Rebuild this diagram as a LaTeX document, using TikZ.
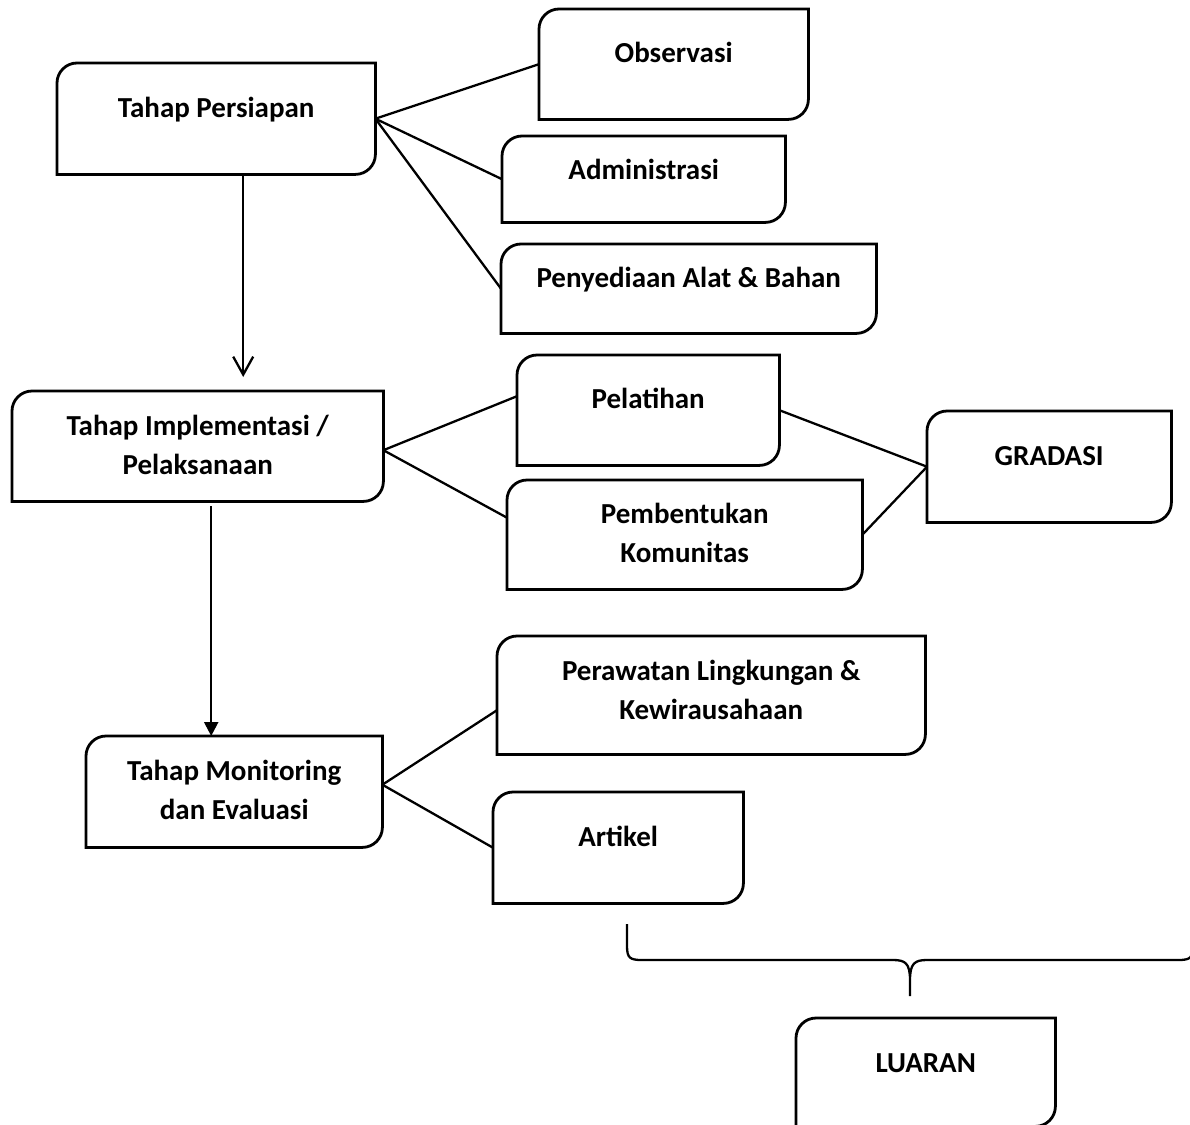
\documentclass[tikz,border=0pt]{standalone}
\usepackage{fontspec}
\setmainfont{Carlito}
\usetikzlibrary{arrows.meta,calc}

\tikzset{
  stagebox/.style={inner xsep=0pt, inner ysep=0pt, anchor=north west, align=center,
    font=\fontsize{29}{39}\selectfont\bfseries},
  outline/.style={line width=2.8pt, line join=miter},
  link/.style={line width=2.3pt},
}

\begin{document}
\begin{tikzpicture}[x=1pt,y=1pt,yscale=-1,xscale=1]
    \useasboundingbox (0,0) rectangle (1190,1124);

    % Stage boxes
    \node[stagebox, minimum width=318, text height=54, text depth=57] (pers) at (57,63) {Tahap Persiapan};
    \node[stagebox, minimum width=269, text height=53, text depth=57] (obs) at (539,9) {Observasi};
    \node[stagebox, minimum width=283, text height=43, text depth=43] (adm) at (502,136) {Administrasi};
    \node[stagebox, minimum width=375, text height=43, text depth=46] (peny) at (501,244) {Penyediaan Alat \& Bahan};
    \node[stagebox, minimum width=371, text height=83, text depth=27] (impl) at (12,391) {Tahap Implementasi /\\Pelaksanaan};
    \node[stagebox, minimum width=262, text height=53, text depth=57] (pel) at (517,355) {Pelatihan};
    \node[stagebox, minimum width=355, text height=82, text depth=27] (pemb) at (507,480) {Pembentukan\\Komunitas};
    \node[stagebox, minimum width=244, text height=54, text depth=57] (grad) at (927,411) {GRADASI};
    \node[stagebox, minimum width=428, text height=83, text depth=35] (pera) at (497,636) {Perawatan Lingkungan \&\\Kewirausahaan};
    \node[stagebox, minimum width=296, text height=83, text depth=28] (mon) at (86,736) {Tahap Monitoring\\dan Evaluasi};
    \node[stagebox, minimum width=250, text height=54, text depth=57] (art) at (493,792) {Artikel};
    \node[stagebox, minimum width=259, text height=54, text depth=54] (lua) at (796,1018) {LUARAN};

    % Outlines: top left and bottom right corners rounded
    \foreach \n in {pers,obs,adm,peny,impl,pel,pemb,grad,pera,mon,art,lua}
      \draw[outline] (\n.south west) -- ($(\n.north west)+(0,20)$)
        .. controls ($(\n.north west)+(0,9)$) and ($(\n.north west)+(9,0)$) .. ($(\n.north west)+(20,0)$)
        -- (\n.north east) -- ($(\n.south east)+(0,-20)$)
        .. controls ($(\n.south east)+(0,-9)$) and ($(\n.south east)+(-9,0)$) .. ($(\n.south east)+(-20,0)$)
        -- cycle;

    % Arrows between stages
    \draw[link, shorten >=14pt, -{Straight Barb[length=18pt,width=20pt]}] ([xshift=27pt]pers.south) -- ([xshift=27pt]pers.south |- impl.north);
    \draw[link, shorten <=5pt, -{Triangle[length=14pt,width=14pt]}] ([xshift=13.5pt]impl.south) -- ([xshift=13.5pt]impl.south |- mon.north);

    % Lines to sub-activities
    \draw[link] (pers.east) -- (obs.west);
    \draw[link] (pers.east) -- (adm.west);
    \draw[link] (pers.east) -- (peny.west);
    \draw[link] ([yshift=4pt]impl.east) -- ([yshift=-14pt]pel.west);
    \draw[link] ([yshift=4pt]impl.east) -- ([yshift=-17pt]pemb.west);
    \draw[link] (pel.east) -- (grad.west);
    \draw[link] (pemb.east) -- (grad.west);
    \draw[link] ([yshift=-7pt]mon.east) -- ([yshift=15pt]pera.west);
    \draw[link] ([yshift=-7pt]mon.east) -- (art.west);

    %Brace over the outputs
    \draw[link] (627,924) -- (627,946) .. controls (627,958) and (630,960) .. (642,960) -- (893,960)
      .. controls (905,960) and (910,963) .. (910,980) -- (910,996)
      (910,980) .. controls (910,963) and (915,960) .. (927,960) -- (1178,960)
      .. controls (1190,960) and (1193,958) .. (1193,946) -- (1193,924);

\end{tikzpicture}
\end{document}
